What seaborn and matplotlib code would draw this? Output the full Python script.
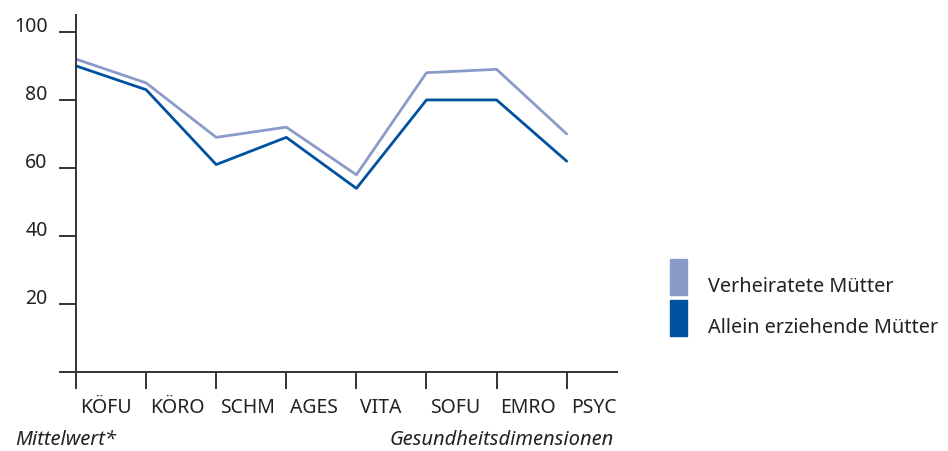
import pandas as pd
import matplotlib
matplotlib.use("Agg")
import matplotlib.pyplot as plt
import matplotlib.transforms as mtransforms
from matplotlib.patches import Rectangle
import seaborn as sns

# Gesundheitsdimensionen (SF-36)
dimensions = ["KÖFU", "KÖRO", "SCHM", "AGES", "VITA", "SOFU", "EMRO", "PSYC"]
verheiratet = [92, 85, 69, 72, 58, 88, 89, 70]
allein = [90, 83, 61, 69, 54, 80, 80, 62]
groups = ["Verheiratete Mütter", "Allein erziehende Mütter"]
colors = ["#8A9BCA", "#00529F"]
y_ticks = [0, 20, 40, 60, 80, 100]
y_labels = ["", "20", "40", "60", "80", "100"]

df = pd.DataFrame({
    "pos": list(range(len(dimensions))) * 2,
    "wert": verheiratet + allein,
    "gruppe": [groups[0]] * len(dimensions) + [groups[1]] * len(dimensions),
})

sns.set_style("white")
plt.rcParams["font.family"] = ["Noto Sans", "DejaVu Sans"]

fig = plt.figure(figsize=(9.48, 4.51), dpi=100)
ax = fig.add_axes([0.0802, 0.175, 0.651 - 0.0802, 0.967 - 0.175])

sns.lineplot(data=df, x="pos", y="wert", hue="gruppe", palette=colors,
             linewidth=2.0, ax=ax, legend=False)

ax.set_xlim(0, 7.72)
ax.set_ylim(0, 105)
ax.set_xticks(range(len(dimensions)))
ax.set_xticklabels(dimensions)
ax.set_yticks(y_ticks)
ax.set_yticklabels(y_labels)
ax.set_xlabel("")
ax.set_ylabel("")

for s in ["top", "right"]:
    ax.spines[s].set_visible(False)
for s in ["left", "bottom"]:
    ax.spines[s].set_color("#333333")
    ax.spines[s].set_linewidth(1.4)

ax.tick_params(axis="both", which="both", direction="out", length=12.5,
               width=1.4, color="#333333", labelsize=14, labelcolor="#222222",
               bottom=True, left=True)
ax.tick_params(axis="x", pad=6)
ax.tick_params(axis="y", pad=8)
for lbl in ax.get_yticklabels():
    lbl.set_verticalalignment("baseline")
shift = mtransforms.ScaledTranslation(4 / 100, 0, fig.dpi_scale_trans)
for lbl in ax.get_xticklabels():
    lbl.set_horizontalalignment("left")
    lbl.set_transform(lbl.get_transform() + shift)

fig.text(15 / 948, 1 - 440 / 451, "Mittelwert*", style="italic", fontsize=14.5,
         color="#222222", va="center", ha="left")
fig.text(614 / 948, 1 - 440 / 451, "Gesundheitsdimensionen", style="italic",
         fontsize=14.5, color="#222222", va="center", ha="right")

# Legende
for i, (g, c) in enumerate(zip(groups, colors)):
    top = 259 + i * 41
    fig.patches.append(Rectangle((670 / 948, 1 - (top + 36) / 451), 17 / 948, 36 / 451,
                                 transform=fig.transFigure, color=c, figure=fig))
    fig.text(708 / 948, 1 - (top + 28) / 451, g, fontsize=14.3, color="#222222",
             va="center", ha="left")

fig.savefig("out.png", dpi=100)
